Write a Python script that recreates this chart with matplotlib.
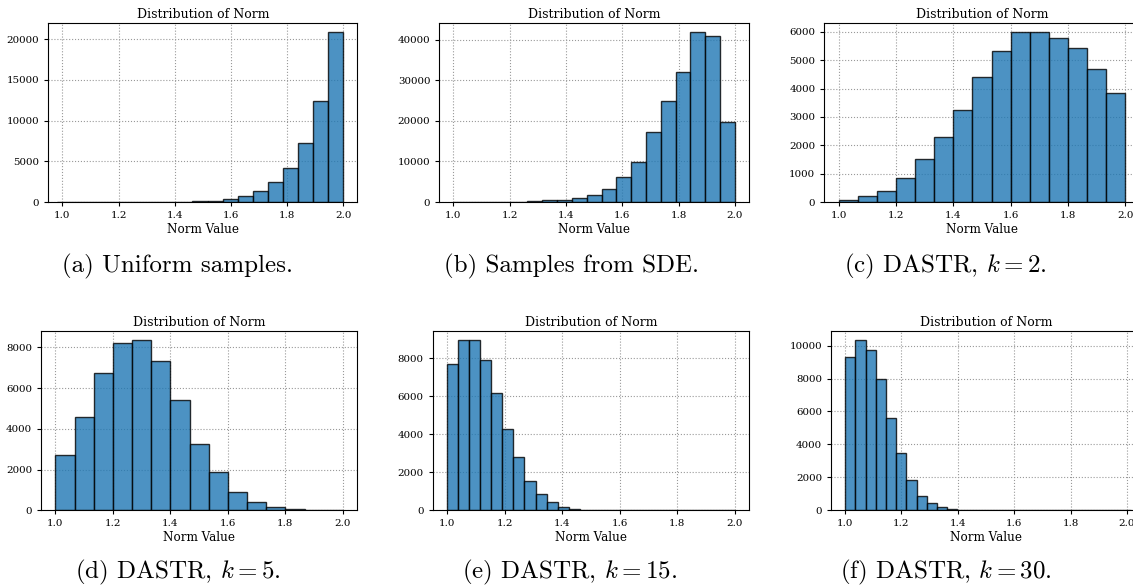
import numpy as np
import matplotlib
matplotlib.use("Agg")
import matplotlib.pyplot as plt

plt.rcParams['font.family'] = 'DejaVu Serif'
plt.rcParams['mathtext.fontset'] = 'cm'

# bin counts (left to right), with the bin range used
counts_a = [0, 0, 0, 0, 0, 0, 5, 15, 40, 90, 170, 370, 680, 1300, 2450, 4200, 7300, 12350, 20900]
range_a = (0.98, 2.0)
counts_b = [0, 0, 0, 0, 50, 250, 450, 500, 900, 1650, 3100, 6100, 9900, 17300, 24800, 32000, 41900, 40800, 19800]
range_b = (1.0, 2.0)
counts_c = [70, 200, 380, 835, 1505, 2290, 3230, 4420, 5320, 6000, 6000, 5790, 5440, 4680, 3835]
range_c = (1.0, 2.0)
counts_d = [2700, 4590, 6720, 8210, 8380, 7330, 5390, 3250, 1870, 900, 390, 160, 65, 30, 15]
range_d = (1.0, 2.0)
counts_e = [7720, 8950, 8990, 7910, 6190, 4280, 2800, 1520, 860, 460, 160, 90, 40, 15, 5,
            0, 0, 0, 0, 0, 0, 0, 0, 0, 0, 0]
range_e = (1.0, 2.0)
counts_f = [9290, 10370, 9760, 7970, 5610, 3480, 1850, 890, 430, 180, 80, 30, 10,
            0, 0, 0, 0, 0, 0, 0, 0, 0, 0, 0, 0, 0, 0, 0]
range_f = (1.0, 2.015)

captions = ["(a) Uniform samples.", "(b) Samples from SDE.", "(c) DASTR, $k=2$.",
            "(d) DASTR, $k=5$.", "(e) DASTR, $k=15$.", "(f) DASTR, $k=30$."]

panels = [(counts_a, range_a), (counts_b, range_b), (counts_c, range_c),
          (counts_d, range_d), (counts_e, range_e), (counts_f, range_f)]

W, H = 1133, 586
fig = plt.figure(figsize=(W / 100, H / 100), dpi=100)

# axes boxes in pixels: left, top, right, bottom
boxes = [(48.3, 23.3, 357.3, 202), (439.3, 23.3, 749, 202), (824.3, 23.3, 1139.6, 202),
         (41, 331, 357.3, 510.3), (432.7, 331, 749, 510.3), (831, 331, 1141, 510.3)]
cap_pos = [(178, 266), (571, 266), (945, 266), (178, 572), (570, 572), (946, 572)]

for (counts, rng), box, cap, cp in zip(panels, boxes, captions, cap_pos):
    l, t, r, b = box
    ax = fig.add_axes([l / W, 1 - b / H, (r - l) / W, (b - t) / H])
    counts = np.array(counts, dtype=float)
    edges = np.linspace(rng[0], rng[1], len(counts) + 1)
    ax.hist(edges[:-1], bins=edges, weights=counts, color='#1f77b4', alpha=0.8,
            edgecolor='black', linewidth=1.0)
    ax.set_xlim(0.95, 2.05)
    ax.set_xticks([1.0, 1.2, 1.4, 1.6, 1.8, 2.0])
    ax.grid(True, linestyle=':', color='#999999', linewidth=0.8)
    ax.set_axisbelow(True)
    ax.tick_params(labelsize=7.4, length=3, width=0.8)
    ax.set_title("Distribution of Norm", fontsize=9, pad=3.5)
    ax.set_xlabel("Norm Value", fontsize=8.6, labelpad=2)
    fig.text(cp[0] / W, 1 - cp[1] / H, cap, family='cmr10', fontsize=18,
             ha='center', va='center')

fig.savefig("out.png", dpi=100)
